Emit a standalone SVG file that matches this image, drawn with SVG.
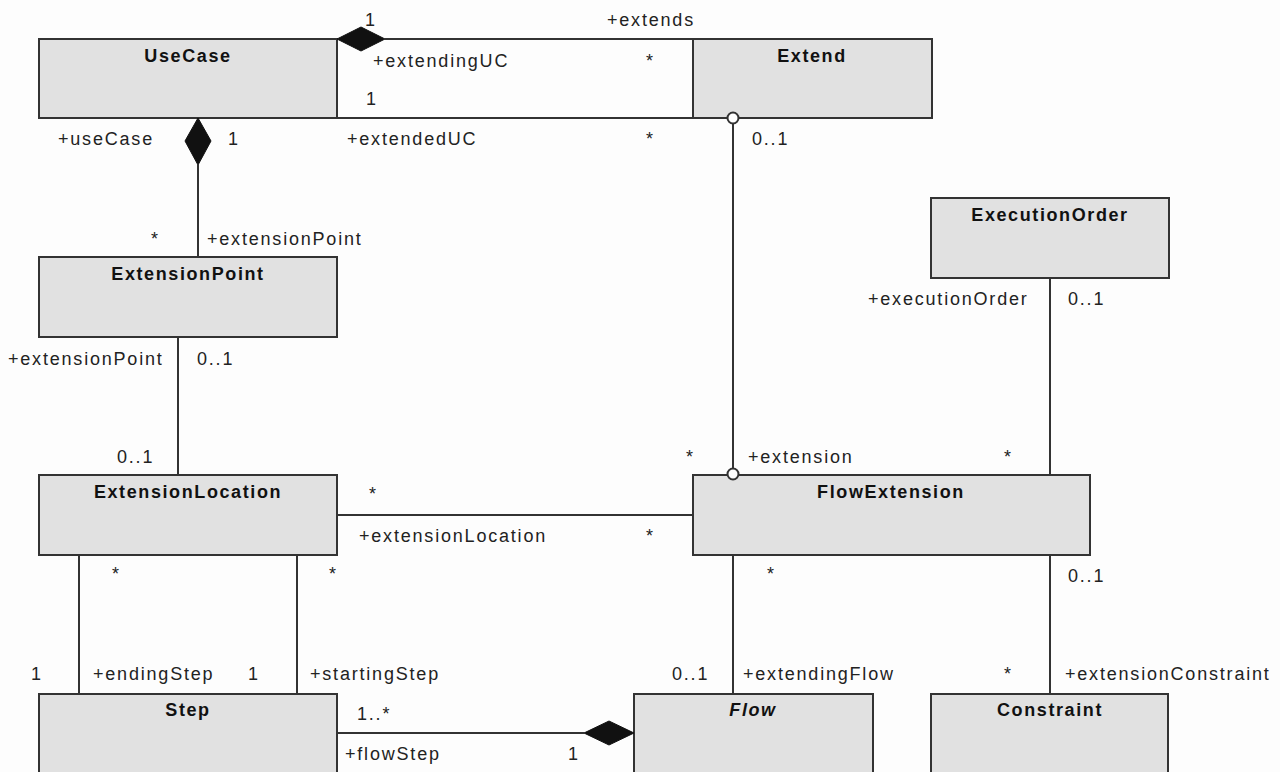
<svg xmlns="http://www.w3.org/2000/svg" width="1280" height="772" viewBox="0 0 1280 772">
  <style>
    .cls rect { fill: #e1e1e1; stroke: #333; stroke-width: 2; }
    .title { font-family: "Liberation Sans", Arial, sans-serif; font-size: 18px; font-weight: bold; fill: #111; text-anchor: middle; letter-spacing: 1.6px; }
    .lbl { font-family: "Liberation Sans", Arial, sans-serif; font-size: 18px; fill: #222; letter-spacing: 1.8px; }
    .edge { stroke: #333; stroke-width: 2; fill: none; }
    .comp { fill: #111; stroke: #111; stroke-width: 1; }
    .nav { fill: #fff; stroke: #333; stroke-width: 2; }
  </style>
  <rect width="1280" height="772" fill="#fdfdfd"/>

  <!-- classes -->
  <g id="UseCase" class="cls"><rect x="39" y="39" width="298" height="79"/><text class="title" x="188" y="62">UseCase</text></g>
  <g id="Extend" class="cls"><rect x="693" y="39" width="239" height="79"/><text class="title" x="812" y="62">Extend</text></g>
  <g id="ExtensionPoint" class="cls"><rect x="39" y="257" width="298" height="80"/><text class="title" x="188" y="280">ExtensionPoint</text></g>
  <g id="ExecutionOrder" class="cls"><rect x="931" y="198" width="238" height="80"/><text class="title" x="1050" y="221">ExecutionOrder</text></g>
  <g id="ExtensionLocation" class="cls"><rect x="39" y="475" width="298" height="80"/><text class="title" x="188" y="498">ExtensionLocation</text></g>
  <g id="FlowExtension" class="cls"><rect x="693" y="475" width="397" height="80"/><text class="title" x="891" y="498">FlowExtension</text></g>
  <g id="Step" class="cls"><rect x="39" y="694" width="298" height="90"/><text class="title" x="188" y="716">Step</text></g>
  <g id="Flow" class="cls"><rect x="634" y="694" width="239" height="90"/><text class="title" x="753" y="716" font-style="italic">Flow</text></g>
  <g id="Constraint" class="cls"><rect x="931" y="694" width="237" height="90"/><text class="title" x="1050" y="716">Constraint</text></g>

  <!-- associations -->
  <g id="connectors">
    <line class="edge" x1="385" y1="39" x2="693" y2="39"/>
    <polygon class="comp" points="337,39 361,27 385,39 361,51"/>
    <line class="edge" x1="337" y1="118" x2="693" y2="118"/>

    <line class="edge" x1="198" y1="165" x2="198" y2="257"/>
    <polygon class="comp" points="198,118 211,141 198,165 185,141"/>

    <line class="edge" x1="733" y1="124" x2="733" y2="469"/>
    <circle class="nav" cx="733" cy="118" r="5.5"/>
    <circle class="nav" cx="733" cy="474" r="5.5"/>

    <line class="edge" x1="178" y1="337" x2="178" y2="475"/>
    <line class="edge" x1="337" y1="515" x2="693" y2="515"/>
    <line class="edge" x1="1050" y1="278" x2="1050" y2="475"/>

    <line class="edge" x1="79" y1="555" x2="79" y2="694"/>
    <line class="edge" x1="297" y1="555" x2="297" y2="694"/>
    <line class="edge" x1="733" y1="555" x2="733" y2="694"/>
    <line class="edge" x1="1050" y1="555" x2="1050" y2="694"/>

    <line class="edge" x1="337" y1="733" x2="584" y2="733"/>
    <polygon class="comp" points="584,733 609,721 634,733 609,745"/>
  </g>

  <!-- role names and multiplicities -->
  <g id="labels" class="lbl">
    <text x="365" y="26">1</text>
    <text x="607" y="26">+extends</text>
    <text x="373" y="67">+extendingUC</text>
    <text x="646" y="67">*</text>
    <text x="366" y="105">1</text>
    <text x="58" y="145">+useCase</text>
    <text x="228" y="145">1</text>
    <text x="347" y="145">+extendedUC</text>
    <text x="646" y="145">*</text>
    <text x="752" y="145">0..1</text>
    <text x="151" y="245">*</text>
    <text x="207" y="245">+extensionPoint</text>
    <text x="868" y="305">+executionOrder</text>
    <text x="1068" y="305">0..1</text>
    <text x="8" y="365">+extensionPoint</text>
    <text x="197" y="365">0..1</text>
    <text x="117" y="463">0..1</text>
    <text x="686" y="463">*</text>
    <text x="748" y="463">+extension</text>
    <text x="1004" y="463">*</text>
    <text x="369" y="500">*</text>
    <text x="359" y="542">+extensionLocation</text>
    <text x="646" y="542">*</text>
    <text x="112" y="580">*</text>
    <text x="329" y="580">*</text>
    <text x="767" y="580">*</text>
    <text x="1068" y="582">0..1</text>
    <text x="31" y="680">1</text>
    <text x="93" y="680">+endingStep</text>
    <text x="248" y="680">1</text>
    <text x="310" y="680">+startingStep</text>
    <text x="672" y="680">0..1</text>
    <text x="743" y="680">+extendingFlow</text>
    <text x="1004" y="680">*</text>
    <text x="1065" y="680">+extensionConstraint</text>
    <text x="357" y="720">1..*</text>
    <text x="345" y="760">+flowStep</text>
    <text x="568" y="760">1</text>
  </g>
</svg>
